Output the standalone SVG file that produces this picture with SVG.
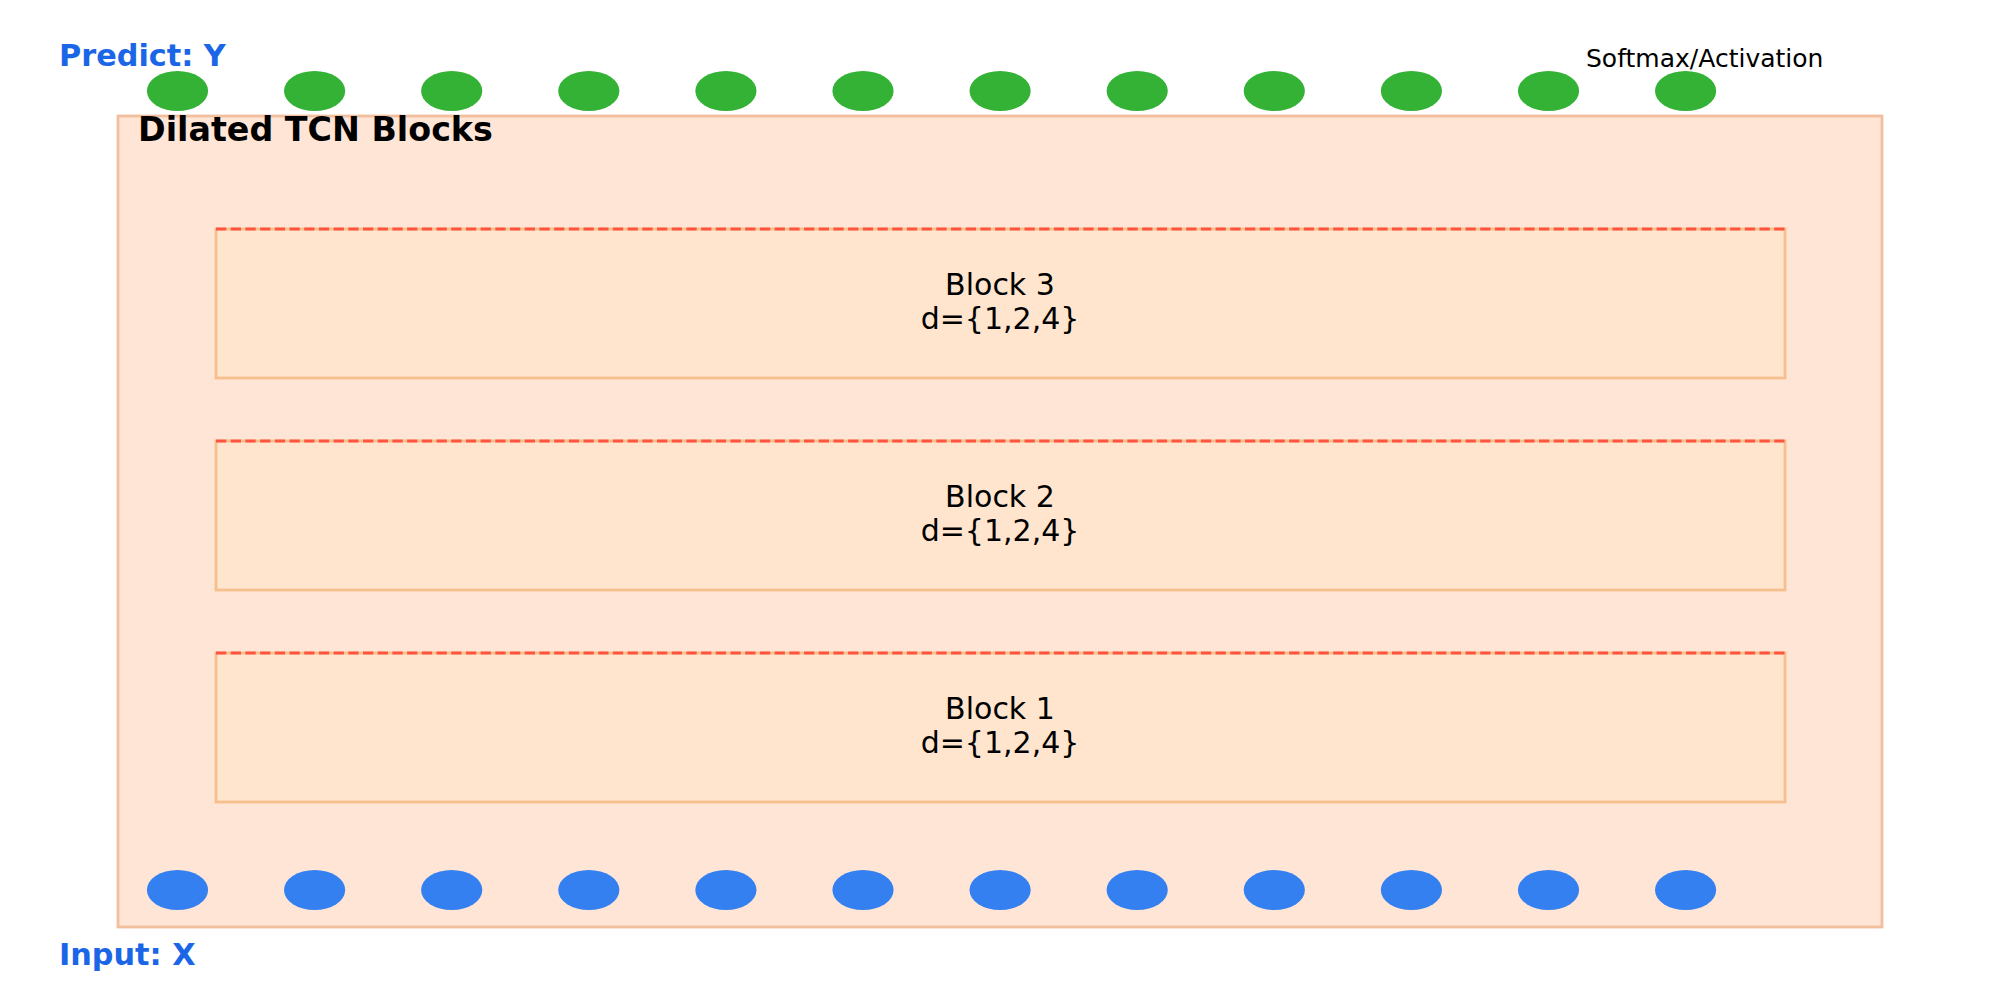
<svg xmlns="http://www.w3.org/2000/svg" width="2000" height="1000" viewBox="0 0 2000 1000">
  <style>
    .outer { fill: #fee5d5; stroke: #f2bf9e; stroke-width: 2.8; }
    .block { fill: #ffe5cd; stroke: #f5c08d; stroke-width: 2.8; }
    .dash { stroke: #ff5540; stroke-width: 2.8; stroke-dasharray: 10.3 4.4; fill: none; }
    .out { fill: #33b235; }
    .in { fill: #3580f0; }
    .lbl { font-family: "DejaVu Sans", sans-serif; font-size: 30px; fill: #000; text-anchor: middle; }
    .io { font-family: "DejaVu Sans", sans-serif; font-size: 30.3px; font-weight: bold; fill: #1a66e6; }
    .title { font-family: "DejaVu Sans", sans-serif; font-size: 33.3px; font-weight: bold; fill: #000; }
    .act { font-family: "DejaVu Sans", sans-serif; font-size: 25px; fill: #000; }
  </style>
  <rect width="2000" height="1000" fill="#ffffff"/>

  <g id="tcn-container">
    <rect class="outer" x="118" y="116" width="1764" height="811"/>
    <text class="title" x="138" y="141">Dilated TCN Blocks</text>
  </g>

  <g id="block3">
    <rect class="block" x="216" y="229" width="1569" height="149"/>
    <line class="dash" x1="216" y1="229" x2="1785" y2="229"/>
    <text class="lbl" x="1000" y="295">Block 3</text>
    <text class="lbl" x="1000" y="329">d={1,2,4}</text>
  </g>
  <g id="block2">
    <rect class="block" x="216" y="441" width="1569" height="149"/>
    <line class="dash" x1="216" y1="441" x2="1785" y2="441"/>
    <text class="lbl" x="1000" y="507">Block 2</text>
    <text class="lbl" x="1000" y="541">d={1,2,4}</text>
  </g>
  <g id="block1">
    <rect class="block" x="216" y="653" width="1569" height="149"/>
    <line class="dash" x1="216" y1="653" x2="1785" y2="653"/>
    <text class="lbl" x="1000" y="719">Block 1</text>
    <text class="lbl" x="1000" y="753">d={1,2,4}</text>
  </g>

  <g id="outputs">
    <text class="io" x="59" y="66">Predict: Y</text>
    <text class="act" x="1586" y="67">Softmax/Activation</text>
    <ellipse class="out" cx="177.5" cy="91" rx="30.6" ry="20"/>
    <ellipse class="out" cx="314.6" cy="91" rx="30.6" ry="20"/>
    <ellipse class="out" cx="451.7" cy="91" rx="30.6" ry="20"/>
    <ellipse class="out" cx="588.8" cy="91" rx="30.6" ry="20"/>
    <ellipse class="out" cx="725.9" cy="91" rx="30.6" ry="20"/>
    <ellipse class="out" cx="863" cy="91" rx="30.6" ry="20"/>
    <ellipse class="out" cx="1000.1" cy="91" rx="30.6" ry="20"/>
    <ellipse class="out" cx="1137.2" cy="91" rx="30.6" ry="20"/>
    <ellipse class="out" cx="1274.3" cy="91" rx="30.6" ry="20"/>
    <ellipse class="out" cx="1411.4" cy="91" rx="30.6" ry="20"/>
    <ellipse class="out" cx="1548.5" cy="91" rx="30.6" ry="20"/>
    <ellipse class="out" cx="1685.6" cy="91" rx="30.6" ry="20"/>
  </g>

  <g id="inputs">
    <text class="io" x="59" y="965">Input: X</text>
    <ellipse class="in" cx="177.5" cy="890" rx="30.6" ry="20"/>
    <ellipse class="in" cx="314.6" cy="890" rx="30.6" ry="20"/>
    <ellipse class="in" cx="451.7" cy="890" rx="30.6" ry="20"/>
    <ellipse class="in" cx="588.8" cy="890" rx="30.6" ry="20"/>
    <ellipse class="in" cx="725.9" cy="890" rx="30.6" ry="20"/>
    <ellipse class="in" cx="863" cy="890" rx="30.6" ry="20"/>
    <ellipse class="in" cx="1000.1" cy="890" rx="30.6" ry="20"/>
    <ellipse class="in" cx="1137.2" cy="890" rx="30.6" ry="20"/>
    <ellipse class="in" cx="1274.3" cy="890" rx="30.6" ry="20"/>
    <ellipse class="in" cx="1411.4" cy="890" rx="30.6" ry="20"/>
    <ellipse class="in" cx="1548.5" cy="890" rx="30.6" ry="20"/>
    <ellipse class="in" cx="1685.6" cy="890" rx="30.6" ry="20"/>
  </g>

  <g id="connectors"></g>
</svg>
